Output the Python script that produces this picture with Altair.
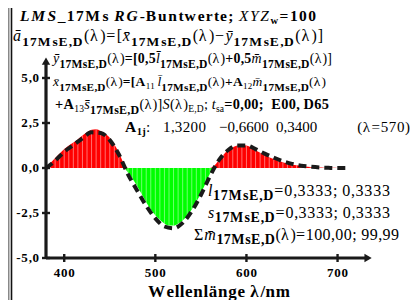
import unicodedata
import altair as alt
import pandas as pd

# ---------------- data ----------------
lam5 = list(range(380, 705, 5))
fill_vals = [0.0, 0.28, 0.55, 0.8, 1.05, 1.25, 1.42, 1.6, 1.8, 1.98,
             2.12, 2.15, 2.05, 1.9, 1.68, 1.3, 0.85, 0.3, -0.25, -0.6,
             -1.0, -1.45, -1.9, -2.3, -2.62, -2.88, -3.08, -3.2, -3.2, -3.1,
             -2.92, -2.65, -2.3, -1.88, -1.4, -0.88, -0.3, 0.15, 0.45, 0.75,
             1.0, 1.15, 1.25, 1.28, 1.25, 1.15, 0.98, 0.85, 0.72, 0.6,
             0.5, 0.4, 0.32, 0.25, 0.2, 0.15, 0.12, 0.09, 0.06, 0.04,
             0.03, 0.02, 0.01, 0.01, 0.0]
lam10 = list(range(380, 720, 10))
dash_vals = [0.0, 0.4, 0.9, 1.27, 1.65, 1.98, 1.95, 1.55, 0.75, -0.35,
             -1.25, -2.1, -2.8, -3.25, -3.35, -3.05, -2.4, -1.5, -0.45, 0.45,
             1.0, 1.25, 1.25, 1.05, 0.8, 0.58, 0.38, 0.23, 0.13, 0.07,
             0.03, 0.01, 0.0, 0.0]
x_ticks = [400, 500, 600, 700]
x_tick_labels = ["400", "500", "600", "700"]
y_ticks = [-5, -2.5, 0, 2.5, 5]
y_tick_labels = ["-5,0", "-2,5", "0,0", "2,5", "5,0"]
x_domain = [380, 740]
y_domain = [-5, 6.2222]
x_axis_end = [733.5]
y_axis_end = [5.94]
x_title = [("Wellenlänge λ/nm", "b")]

SUB = "17MsE,D"
line1 = [("LMS", "bi"), ("_17Ms ", "b"), ("RG", "bi"), ("-Buntwerte; ", "b"),
         ("XYZ", "i"), ("w", "xb"), ("=100", "b")]
line2 = [("a\u0304", "i"), (SUB, "s"), ("(λ)=[", "r"), ("x\u0304", "i"), (SUB, "s"),
         ("(λ)−", "r"), ("y\u0304", "i"), (SUB, "s"), ("(λ)]", "r")]
line3 = [("y\u0304", "i"), (SUB, "s"), ("(λ)", "r"), ("=[0,5", "b"), ("l\u0304", "i"),
         (SUB, "s"), ("(λ)", "r"), ("+0,5", "b"), ("m\u0304", "i"), (SUB, "s"), ("(λ)]", "r")]
line4 = [("x\u0304", "i"), (SUB, "s"), ("(λ)", "r"), ("=[A", "b"), ("11 ", "x"),
         ("l\u0304", "i"), (SUB, "s"), ("(λ)", "r"), ("+A", "b"), ("12", "x"),
         ("m\u0304", "i"), (SUB, "s"), ("(λ)", "r")]
line5 = [("+A", "b"), ("13", "x"), ("s\u0304", "i"), (SUB, "s"), ("(λ)]", "r"),
         ("S", "i"), ("(λ)", "r"), ("E,D", "x"), ("; ", "r"), ("t", "i"), ("sa", "x"),
         ("=0,00;  E00, D65", "b")]
line6a = [("A", "b"), ("1j", "xb"), (":", "r")]
line6b = [("1,3200", "r")]
line6c = [("−0,6600", "r")]
line6d = [("0,3400", "r")]
line6e = [("(λ=570)", "r")]
lineL = [("l", "i"), (SUB, "s"), ("=0,3333; 0,3333", "r")]
lineS = [("s", "i"), (SUB, "s"), ("=0,3333; 0,3333", "r")]
lineM = [("Σ", "r"), ("m\u0304", "i"), (SUB, "s"), ("(λ)=100,00; 99,99", "r")]

# ---------------- text layout helpers (Times metrics) ----------------
WR = {' ': 250, ',': 250, '.': 250, ';': 278, ':': 278, '=': 564, '+': 564, '−': 564,
      '-': 333, '(': 333, ')': 333, '[': 333, ']': 333, 'λ': 549, 'Σ': 600, 'A': 722,
      'S': 556, 'E': 611, 'D': 722, 'j': 278, 'l': 278, 's': 389, 'm': 778, 'x': 500,
      'y': 500, 'a': 444, 't': 278, '/': 278}
WB = {' ': 250, ',': 250, ';': 333, ':': 333, '=': 570, '+': 570, '-': 333, '−': 570,
      '(': 333, ')': 333, '[': 333, ']': 333, 'M': 944, 's': 389, 'E': 667, 'D': 722,
      'A': 722, 'B': 667, 'u': 556, 'n': 556, 't': 333, 'w': 722, 'e': 444, 'r': 444,
      '_': 500, 'a': 500, 'l': 278, 'm': 833, 'λ': 549, 'j': 333, 'W': 1000, 'g': 500,
      'ä': 500, '/': 278}
WI = {'a': 500, 'x': 444, 'y': 444, 'l': 278, 'm': 722, 's': 389, 't': 278, 'S': 500,
      'L': 556, 'M': 833, 'X': 611, 'Y': 556, 'Z': 556, 'R': 611, 'G': 722}
WBI = {'L': 611, 'M': 889, 'S': 556, 'R': 667, 'G': 722, 'X': 667, 'Y': 611, 'Z': 611}
WIDTH = {'R': WR, 'B': WB, 'I': WI, 'BI': WBI}
KIND = {'r': 'R', 'b': 'B', 'i': 'I', 'bi': 'BI', 's': 'B', 'x': 'R', 'xb': 'B'}

OX, OY = 46, 56  # page position of plot origin
rows = []


def measure(segs, main, sub, idx, sub_dy, idx_dy):
    items = []
    cum = 0.0
    for text, kind in segs:
        st = KIND[kind]
        if kind == 's':
            size, dy = sub, sub_dy
        elif kind in ('x', 'xb'):
            size, dy = idx, idx_dy
        else:
            size, dy = main, 0
        clusters = []
        for ch in text:
            if unicodedata.combining(ch) and clusters:
                clusters[-1] += ch
            else:
                clusters.append(ch)
        for c in clusters:
            wd = WIDTH[st].get(c[0], 500) * size / 1000.0
            items.append((c, st, size, dy, cum, wd))
            cum += wd
    return items, cum


def add_line(segs, base, main, sub, idx, x0=None, x1=None, stretch=None,
             center=None, sub_dy=4.5, idx_dy=3, min_stretch=1.03):
    f = 1.0
    while True:
        items, cum = measure(segs, main * f, sub * f, idx * f, sub_dy, idx_dy)
        last_w = items[-1][5]
        if stretch is not None:
            s = stretch
            break
        s = (x1 - x0 - last_w) / (cum - last_w)
        if s >= min_stretch:
            break
        f *= 0.985
    span = (cum - last_w) * s + last_w
    if x0 is None:
        x0 = center - span / 2 if center is not None else x1 - span
    for c, st, size, dy, cpos, wd in items:
        if c.strip() == "":
            continue
        rows.append(dict(t=c, st=st, size=round(size, 2),
                         x=x0 + cpos * s - OX, y=base + dy - OY))


M, S, X = 16, 13.5, 10.5
add_line(line1, 21, 15.5, S, X, x0=20, x1=316, idx_dy=3)
add_line(line2, 41, M, S, X, x0=13, x1=323)
add_line(line3, 63, 15, 12.5, 10, x0=53, x1=332)
add_line(line4, 86, 15, 12.5, 10, x0=53, x1=326)
add_line(line5, 109, 15, 12.5, 10, x0=55, x1=329)
add_line(line6a, 132, 15.5, S, X, x0=125, stretch=1.05)
add_line(line6b, 132, 15, S, X, x0=163, stretch=1.05)
add_line(line6c, 132, 15, S, X, x0=219, stretch=1.0)
add_line(line6d, 132, 15, S, X, x0=276, stretch=1.0)
add_line(line6e, 132, 15, S, X, x1=410, stretch=1.08)
add_line(lineL, 196, 16, 14, X, x0=208, x1=390, sub_dy=4)
add_line(lineS, 218, 16, 14, X, x0=208, x1=390, sub_dy=4)
add_line(lineM, 240, 16, 14, X, x0=194, x1=399, sub_dy=4)

# axis tick labels and title
for v, lab in zip(y_ticks, y_tick_labels):
    ty = OY + (y_domain[1] - v) * 18
    add_line([(lab, "b")], ty + 4.5, 13, S, X, x1=39, stretch=1.15)
for v, lab in zip(x_ticks, x_tick_labels):
    tx = OX + (v - x_domain[0]) * 328 / (x_domain[1] - x_domain[0])
    add_line([(lab, "b")], 277, 13, S, X, center=tx, stretch=1.12)
add_line(x_title, 297, 17, S, X, x0=148, x1=290)

text_df = pd.DataFrame(rows)

# ---------------- chart ----------------
fill_df = pd.DataFrame({"lam": lam5, "v": fill_vals})
dash_df = pd.DataFrame({"lam": lam10, "v": dash_vals})

xs = alt.Scale(domain=x_domain, nice=False, zero=False)
ys = alt.Scale(domain=y_domain, nice=False, zero=False)

base = alt.Chart(fill_df)
red = base.transform_calculate(p="max(datum.v, 0)").mark_area(
    color="#ff0000", interpolate="monotone").encode(
    x=alt.X("lam:Q", scale=xs, axis=None), y=alt.Y("p:Q", scale=ys, axis=None),
    y2=alt.datum(0))
green = base.transform_calculate(n="min(datum.v, 0)").mark_area(
    color="#00ff00", interpolate="monotone").encode(
    x=alt.X("lam:Q", scale=xs, axis=None), y=alt.Y("n:Q", scale=ys, axis=None),
    y2=alt.datum(0))
stripes = base.mark_rule(color="white", strokeWidth=0.8, opacity=0.55).encode(
    x=alt.X("lam:Q", scale=xs, axis=None), y=alt.Y("v:Q", scale=ys, axis=None),
    y2=alt.datum(0))
dashed = alt.Chart(dash_df).mark_line(
    color="#1a1a1a", strokeWidth=4, strokeDash=[8, 5], interpolate="monotone").encode(
    x=alt.X("lam:Q", scale=xs, axis=None), y=alt.Y("v:Q", scale=ys, axis=None))

ax_df = pd.DataFrame({"x0": [x_domain[0]], "x1": x_axis_end, "y0": [y_domain[0]],
                      "y1": y_axis_end})
y_axis = alt.Chart(ax_df).mark_rule(color="#1a1a1a", strokeWidth=3.2).encode(
    x=alt.X("x0:Q", scale=xs, axis=None), y=alt.Y("y0:Q", scale=ys, axis=None),
    y2="y1:Q")
x_axis = alt.Chart(ax_df).mark_rule(color="#1a1a1a", strokeWidth=3.2).encode(
    x=alt.X("x0:Q", scale=xs, axis=None), x2="x1:Q",
    y=alt.Y("y0:Q", scale=ys, axis=None))
y_arrow = alt.Chart(ax_df).mark_point(shape="triangle-up", filled=True, size=70,
                                      color="#1a1a1a", opacity=1).encode(
    x=alt.X("x0:Q", scale=xs, axis=None), y=alt.Y("y1:Q", scale=ys, axis=None))
x_arrow = alt.Chart(ax_df).mark_point(shape="triangle-right", filled=True, size=70,
                                      color="#1a1a1a", opacity=1).encode(
    x=alt.X("x1:Q", scale=xs, axis=None), y=alt.Y("y0:Q", scale=ys, axis=None))

xt_df = pd.DataFrame({"t": x_ticks})
yt_df = pd.DataFrame({"t": y_ticks})
x_tk = alt.Chart(xt_df).mark_rule(color="#1a1a1a", strokeWidth=2.4).encode(
    x=alt.X("t:Q", scale=xs, axis=None), y=alt.value(198), y2=alt.value(206))
y_tk = alt.Chart(yt_df).mark_rule(color="#1a1a1a", strokeWidth=2.4).encode(
    y=alt.Y("t:Q", scale=ys, axis=None), x=alt.value(-4), x2=alt.value(4))

# frame (left border lines)
frame_l1 = alt.Chart(ax_df).mark_rule(color="#888888", strokeWidth=1.5).encode(
    x=alt.value(8.75 - OX), y=alt.value(8 - OY), y2=alt.value(300 - OY))
frame_l2 = alt.Chart(ax_df).mark_rule(color="#111111", strokeWidth=1.6).encode(
    x=alt.value(11.5 - OX), y=alt.value(8 - OY), y2=alt.value(300 - OY))

text_layers = []
for st, weight, style in [("R", "normal", "normal"), ("B", "bold", "normal"),
                          ("I", "normal", "italic"), ("BI", "bold", "italic")]:
    sub_df = text_df[text_df.st == st]
    if len(sub_df) == 0:
        continue
    text_layers.append(alt.Chart(sub_df).mark_text(
        font="Liberation Serif", fontWeight=weight, fontStyle=style,
        align="left", baseline="alphabetic", color="black").encode(
        x=alt.X("x:Q", scale=None), y=alt.Y("y:Q", scale=None),
        text="t:N", size=alt.Size("size:Q", scale=None, legend=None)))

chart = alt.layer(
    red, green, stripes, dashed, y_axis, x_axis, y_arrow, x_arrow, x_tk, y_tk,
    frame_l1, frame_l2, *text_layers
).properties(
    width=328, height=202,
    autosize=alt.AutoSizeParams(type="none"),
    padding={"left": 38, "top": 48, "right": 37, "bottom": 42},
    background="white",
).configure_view(stroke=None)

chart.save("out.html", embed_options={"renderer": "svg", "actions": False})
